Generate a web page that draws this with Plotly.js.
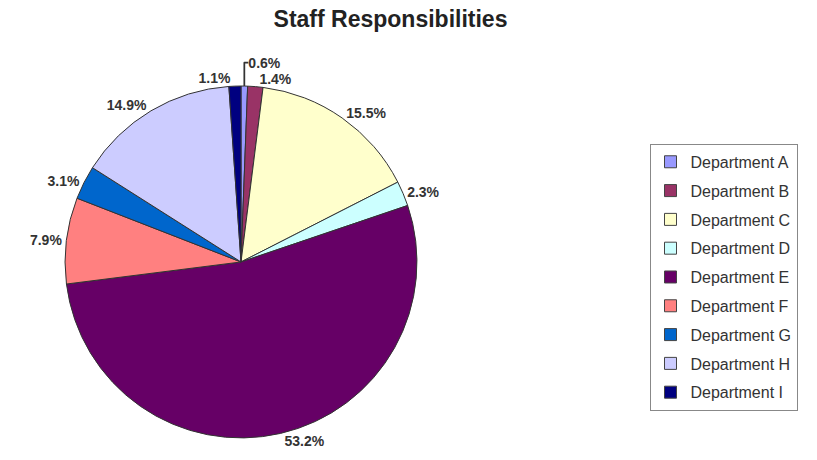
<!DOCTYPE html>
<html><head><meta charset="utf-8">
<script src="https://cdn.plot.ly/plotly-3.0.1.min.js"></script>
<style>body{margin:0;background:#fff}#c{width:817px;height:460px}</style>
</head><body><div id="c"></div>
<script>
const departments = ["Department A","Department B","Department C","Department D","Department E","Department F","Department G","Department H","Department I"];
const shares = [0.6, 1.4, 15.5, 2.3, 53.2, 7.9, 3.1, 14.9, 1.1];
const colors = ["#9999ff","#993366","#ffffcc","#ccffff","#660066","#ff8080","#0066cc","#ccccff","#000080"];

const FONT = "Arial, Liberation Sans, sans-serif";
const pie = {
  type: "pie",
  labels: departments,
  values: shares,
  sort: false,
  direction: "clockwise",
  rotation: 0,
  showlegend: false,
  marker: {colors: colors, line: {color: "#333333", width: 1}},
  textposition: "outside",
  texttemplate: "%{value:.1f}%",
  textfont: {family: FONT, size: 14, color: "#333333", weight: "bold"},
  hoverinfo: "label+value",
  domain: {x: [0.0, 0.59], y: [0.048, 0.813]}
};
// legend entries built from the same category/colour arrays
const legendTraces = departments.map((d, i) => ({
  type: "scatter", mode: "markers", x: [null], y: [null],
  name: d, legendgroup: d, showlegend: true, hoverinfo: "skip",
  marker: {symbol: "square", size: 12, color: colors[i], line: {color: "#444444", width: 1}}
}));
const layout = {
  width: 817, height: 460,
  margin: {l: 0, r: 0, t: 0, b: 0},
  paper_bgcolor: "#ffffff", plot_bgcolor: "rgba(0,0,0,0)",
  xaxis: {visible: false, domain: [0.8, 0.81]},
  yaxis: {visible: false, domain: [0.5, 0.51]},
  title: {text: "<b>Staff Responsibilities</b>", x: 0.478, xanchor: "center", y: 0.958, yanchor: "middle",
          font: {family: FONT, size: 23, color: "#222222"}},
  showlegend: true,
  legend: {x: 0.795, xanchor: "left", y: 0.397, yanchor: "middle",
           bordercolor: "#888888", borderwidth: 1, bgcolor: "#ffffff",
           font: {family: FONT, size: 16, color: "#333333"},
           tracegroupgap: 5, itemwidth: 30}
};
Plotly.newPlot("c", [pie].concat(legendTraces), layout, {displayModeBar: false});
</script></body></html>
